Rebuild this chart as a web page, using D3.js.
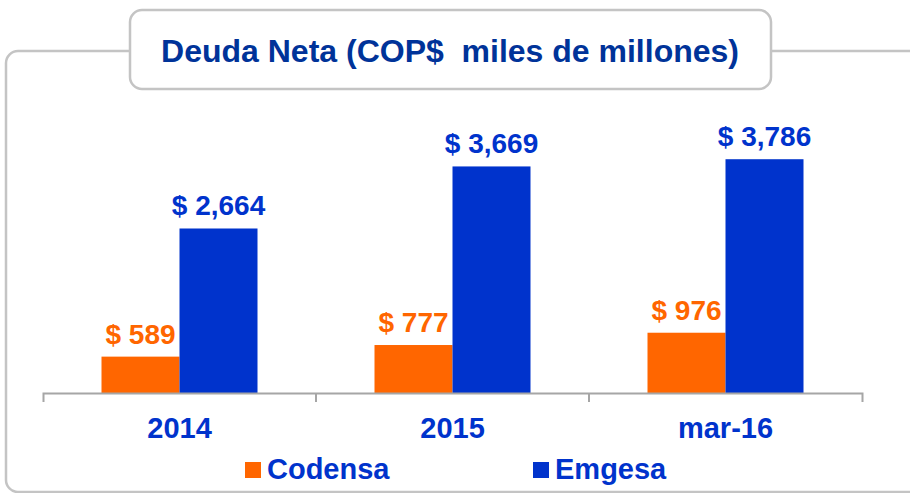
<!DOCTYPE html>
<html>
<head>
<meta charset="utf-8">
<script src="https://cdn.jsdelivr.net/npm/d3@7"></script>
<style>
  body { margin: 0; background: #fff; }
  svg { display: block; font-family: "Liberation Sans", Arial, sans-serif; font-weight: bold; }
</style>
</head>
<body>
<div id="chart"></div>
<script>
// data
const categories = ['2014', '2015', 'mar-16'];
const seriesNames = ['Codensa', 'Emgesa'];
const codensa = [589, 777, 976];
const emgesa = [2664, 3669, 3786];
const titleText = 'Deuda Neta (COP$\u00a0\u00a0miles de millones)';

const w = 910, h = 493;
const colors = { Codensa: '#FF6600', Emgesa: '#0033CC' };
const values = { Codensa: codensa, Emgesa: emgesa };

const svg = d3.select('#chart').append('svg')
  .attr('width', w)
  .attr('height', h);

// outer frame (runs off the right edge)
svg.append('rect')
  .attr('x', 6).attr('y', 51)
  .attr('width', 1000).attr('height', 441)
  .attr('rx', 12)
  .attr('fill', '#fff')
  .attr('stroke', '#C4C4C4')
  .attr('stroke-width', 2.5);

// title box
svg.append('rect')
  .attr('x', 130).attr('y', 10)
  .attr('width', 641).attr('height', 79)
  .attr('rx', 12)
  .attr('fill', '#fff')
  .attr('stroke', '#C4C4C4')
  .attr('stroke-width', 2.5);

svg.append('text')
  .attr('x', 450).attr('y', 62)
  .attr('text-anchor', 'middle')
  .attr('font-size', 32)
  .attr('fill', '#003399')
  .text(titleText);

const x = d3.scaleBand()
  .domain(categories)
  .range([43, 862])
  .padding(0);

const xSub = d3.scaleBand()
  .domain(seriesNames)
  .range([0, x.bandwidth()])
  .paddingInner(0)
  .paddingOuter(0.75);

const y = d3.scaleLinear()
  .domain([0, 4000])
  .range([393, 146]);

const groups = svg.selectAll('g.grp')
  .data(categories)
  .enter().append('g')
  .attr('class', 'grp')
  .attr('transform', d => 'translate(' + x(d) + ',0)');

const rows = (d, i) => seriesNames.map(s => ({ s: s, v: values[s][i] }));

groups.selectAll('rect')
  .data(rows)
  .enter().append('rect')
  .attr('x', d => xSub(d.s))
  .attr('y', d => y(d.v))
  .attr('width', xSub.bandwidth())
  .attr('height', d => y(0) - y(d.v))
  .attr('fill', d => colors[d.s]);

groups.selectAll('text.val')
  .data(rows)
  .enter().append('text')
  .attr('class', 'val')
  .attr('x', d => xSub(d.s) + xSub.bandwidth() / 2)
  .attr('y', d => y(d.v) - 13)
  .attr('text-anchor', 'middle')
  .attr('font-size', 28)
  .attr('fill', d => colors[d.s])
  .text(d => '$ ' + d3.format(',')(d.v));

// category axis
const xA = d3.axisBottom(x).tickSizeInner(0).tickSizeOuter(9).tickPadding(0);
const gx = svg.append('g')
  .attr('transform', 'translate(0,393)')
  .call(xA);
gx.select('.domain').attr('stroke', '#A6A6A6').attr('stroke-width', 2);
gx.selectAll('.tick line').remove();
gx.selectAll('.tick text')
  .attr('y', 45).attr('dy', 0)
  .attr('font-size', 29)
  .attr('font-family', '"Liberation Sans", Arial, sans-serif')
  .attr('font-weight', 'bold')
  .attr('fill', '#0033CC');
gx.selectAll('line.sep')
  .data(categories.slice(1))
  .enter().append('line')
  .attr('class', 'sep')
  .attr('x1', d => x(d)).attr('x2', d => x(d))
  .attr('y1', 0).attr('y2', 9)
  .attr('stroke', '#A6A6A6').attr('stroke-width', 2);

// legend
const legX = { Codensa: 245, Emgesa: 533 };
const leg = svg.selectAll('g.leg')
  .data(seriesNames)
  .enter().append('g')
  .attr('class', 'leg')
  .attr('transform', d => 'translate(' + legX[d] + ',462)');
leg.append('rect')
  .attr('width', 16).attr('height', 16)
  .attr('fill', d => colors[d]);
leg.append('text')
  .attr('x', 22).attr('y', 17)
  .attr('font-size', 29)
  .attr('fill', '#0033CC')
  .text(d => d);
</script>
</body>
</html>
